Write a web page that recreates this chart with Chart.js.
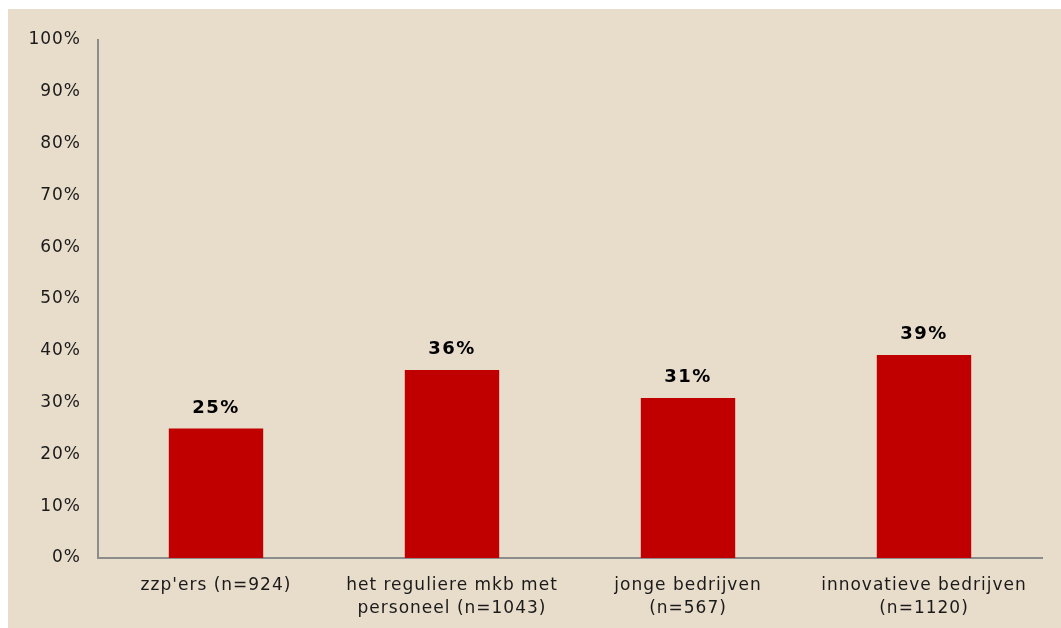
<!DOCTYPE html>
<html>
<head>
<meta charset="utf-8">
<script src="https://cdn.jsdelivr.net/npm/chart.js@4"></script>
<style>
  html, body { margin: 0; padding: 0; background: #fff; }
  #wrap { width: 1061px; height: 628px; }
</style>
</head>
<body>
<div id="wrap"><canvas id="myChart" width="1061" height="628"></canvas></div>
<script>
const categories = [
  "zzp'ers (n=924)",
  ['het reguliere mkb met', 'personeel (n=1043)'],
  ['jonge bedrijven', '(n=567)'],
  ['innovatieve bedrijven', '(n=1120)']
];
const shares = [25, 36.3, 30.9, 39.2];
const shareLabels = ['25%', '36%', '31%', '39%'];
const yTicks = [0, 10, 20, 30, 40, 50, 60, 70, 80, 90, 100];

const FONT = '"DejaVu Sans", Verdana, sans-serif';

// beige panel behind everything, with a thin white edge top/left
// (also widens the letter spacing a bit, the original font runs wider)
const panelBg = {
  id: 'panelBg',
  beforeDraw(chart) {
    const ctx = chart.ctx;
    ctx.letterSpacing = '1px';
    ctx.save();
    ctx.fillStyle = '#e8dccb';
    ctx.fillRect(8, 9, chart.width - 8, chart.height - 9);
    ctx.restore();
  }
};

// bold value labels above the bars
const valueLabels = {
  id: 'valueLabels',
  afterDatasetsDraw(chart) {
    const ctx = chart.ctx;
    const meta = chart.getDatasetMeta(0);
    ctx.save();
    ctx.letterSpacing = '1.5px';
    ctx.font = 'bold 18px ' + FONT;
    ctx.fillStyle = '#000';
    ctx.textAlign = 'center';
    ctx.textBaseline = 'alphabetic';
    meta.data.forEach((bar, i) => {
      ctx.fillText(shareLabels[i], bar.x, bar.y - 16);
    });
    ctx.restore();
  }
};

new Chart(document.getElementById('myChart').getContext('2d'), {
  type: 'bar',
  data: {
    labels: categories,
    datasets: [{
      data: shares,
      backgroundColor: '#c00000',
      borderWidth: 0,
      categoryPercentage: 1,
      barPercentage: 0.4
    }]
  },
  options: {
    responsive: false,
    animation: false,
    layout: { padding: { left: 0, right: 19, top: 40, bottom: 0 } },
    plugins: { legend: { display: false }, tooltip: { enabled: false } },
    scales: {
      x: {
        grid: { display: false, drawTicks: false },
        border: { color: '#8c8c8c', width: 2 },
        ticks: {
          color: '#1a1a1a',
          font: { family: FONT, size: 17, lineHeight: 1.35 },
          padding: 16,
          maxRotation: 0,
          autoSkip: false
        },
        afterFit(scale) { scale.height = 70; }
      },
      y: {
        min: 0,
        max: 100,
        afterBuildTicks(scale) { scale.ticks = yTicks.map(v => ({ value: v })); },
        grid: { display: false, drawTicks: false },
        border: { color: '#8c8c8c', width: 2 },
        ticks: {
          color: '#1a1a1a',
          font: { family: FONT, size: 17 },
          padding: 17,
          callback: v => v + '%'
        },
        afterFit(scale) {
          scale.width = 98;
          scale.paddingTop = 0;
          scale.paddingBottom = 0;
        }
      }
    }
  },
  plugins: [panelBg, valueLabels]
});
</script>
</body>
</html>
